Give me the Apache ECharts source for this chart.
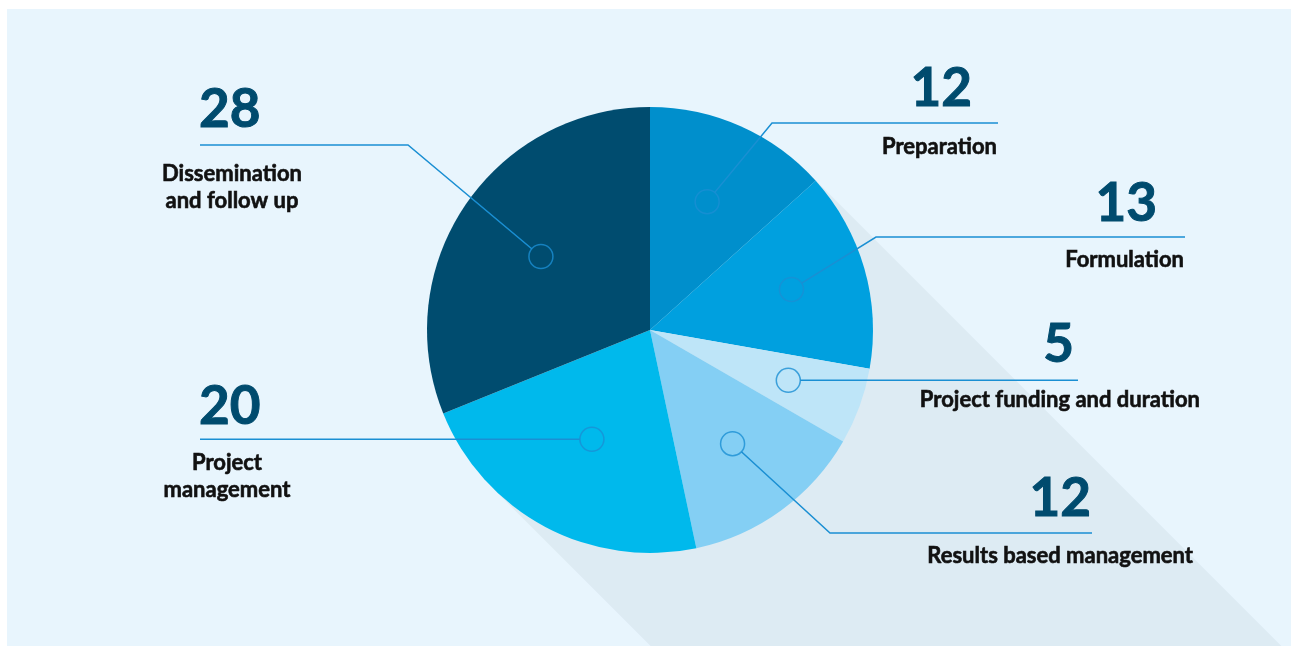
<!DOCTYPE html>
<html><head><meta charset="utf-8">
<script src="https://cdn.jsdelivr.net/npm/echarts@6/dist/echarts.min.js"></script>
<style>html,body{margin:0;padding:0;background:#fff}#c{width:1291px;height:646px}</style>
</head><body><div id="c"></div>
<script>
// ---- data ----
const categories = ['Preparation', 'Formulation', 'Project funding and duration', 'Results based management', 'Project management', 'Dissemination and follow up'];
const displayNames = ['Preparation', 'Formulation', 'Project funding and duration', 'Results based management', 'Project\nmanagement', 'Dissemination\nand follow up'];
const values = [12, 13, 5, 12, 20, 28];
const colors = ['#008FCC', '#00A0DF', '#BEE5F8', '#84CFF4', '#00B9EC', '#004C6F'];

// ---- layout (styling only) ----
const CX = 650, CY = 330, R = 223;
const layout = [
  {rr: 0.63, lineY: 123, elbowX: 772, endX: 998, numX: 972, numY: 89, numAlign: 'right', nameX: 997, nameY: 147, nameAlign: 'right'},
  {rr: 0.66, lineY: 237, elbowX: 876, endX: 1185, numX: 1157, numY: 204, numAlign: 'right', nameX: 1184, nameY: 260, nameAlign: 'right'},
  {rr: 0.66, lineY: null, elbowX: null, endX: 1078, numX: 1074, numY: 345, numAlign: 'right', nameX: 1200, nameY: 400, nameAlign: 'right'},
  {rr: 0.63, lineY: 533, elbowX: 830, endX: 1092, numX: 1091, numY: 499, numAlign: 'right', nameX: 1193, nameY: 556, nameAlign: 'right'},
  {rr: 0.555, lineY: null, elbowX: null, endX: 200, numX: 199, numY: 407, numAlign: 'left', nameX: 227, nameY: 476, nameAlign: 'center'},
  {rr: 0.59, lineY: 145, elbowX: 408, endX: 200, numX: 199, numY: 110, numAlign: 'left', nameX: 232, nameY: 187, nameAlign: 'center'}
];
const CIRCLE_R = 12;
const LINE_COLOR = '#1A8FD3';

const total = values.reduce((a, b) => a + b, 0);
const midFrac = [];
{ let acc = 0; values.forEach(v => { midFrac.push((acc + v / 2) / total); acc += v; }); }

function circlePos(i) {
  const a = midFrac[i] * Math.PI * 2;
  const r = R * layout[i].rr;
  return [CX + r * Math.sin(a), CY - r * Math.cos(a)];
}

function linePoints(i) {
  const L = layout[i];
  const c = circlePos(i);
  let elbow, end;
  if (L.lineY === null) {
    end = [L.endX, c[1]];
    elbow = [(c[0] + L.endX) / 2, c[1]];
  } else {
    elbow = [L.elbowX, L.lineY];
    end = [L.endX, L.lineY];
  }
  const dx = elbow[0] - c[0], dy = elbow[1] - c[1];
  const d = Math.sqrt(dx * dx + dy * dy);
  const start = [c[0] + dx / d * CIRCLE_R, c[1] + dy / d * CIRCLE_R];
  return [start, elbow, end];
}

const pieData = values.map((v, i) => ({name: categories[i], value: v, itemStyle: {color: colors[i]}}));
const ghostData = values.map((v, i) => ({name: categories[i], value: v, itemStyle: {color: 'rgba(0,0,0,0)'}}));
const circleData = values.map((v, i) => [layout[i].rr, midFrac[i] * total]);

const k = R / Math.SQRT2;
const A = [CX + k, CY - k], B = [CX - k, CY + k];
const T = 2000;

const chart = echarts.init(document.getElementById('c'));
chart.setOption({
  animation: false,
  backgroundColor: '#ffffff',
  graphic: [
    {type: 'rect', z: -20, silent: true, shape: {x: 7, y: 9, width: 1284, height: 637}, style: {fill: '#E8F5FD'}},
    {type: 'polygon', z: -10, silent: true, shape: {points: [A, [A[0] + T, A[1] + T], [B[0] + T, B[1] + T], B]}, style: {fill: '#DDEBF3'}}
  ],
  polar: {center: [CX, CY], radius: R},
  angleAxis: {type: 'value', min: 0, max: total, startAngle: 90, clockwise: true, show: false},
  radiusAxis: {type: 'value', min: 0, max: 1, show: false},
  series: [
    {
      type: 'pie', center: [CX, CY], radius: [0, R], startAngle: 90, clockwise: true, z: 1,
      emphasis: {disabled: true}, silent: true,
      data: pieData,
      label: {
        show: true,
        formatter: p => displayNames[p.dataIndex],
        fontFamily: 'Lato', fontWeight: 'bold', fontSize: 22, lineHeight: 27, color: '#111111',
        textBorderColor: '#111111', textBorderWidth: 0.6
      },
      labelLine: {show: false},
      labelLayout: p => {
        const L = layout[p.dataIndex];
        return {x: L.nameX, y: L.nameY, align: L.nameAlign, verticalAlign: 'middle'};
      }
    },
    {
      type: 'pie', center: [CX, CY], radius: [0, R], startAngle: 90, clockwise: true, z: 3,
      emphasis: {disabled: true}, silent: true,
      data: ghostData,
      label: {
        show: true,
        formatter: p => String(p.value),
        fontFamily: 'Lato', fontWeight: 'bold', fontSize: 53, color: '#004B6E',
        textBorderColor: '#004B6E', textBorderWidth: 1
      },
      labelLine: {show: true, lineStyle: {color: LINE_COLOR, width: 1.5}},
      labelLayout: p => {
        const L = layout[p.dataIndex];
        return {x: L.numX, y: L.numY, align: L.numAlign, verticalAlign: 'middle', labelLinePoints: linePoints(p.dataIndex)};
      }
    },
    {
      type: 'scatter', coordinateSystem: 'polar', z: 5, silent: true,
      symbol: 'circle', symbolSize: CIRCLE_R * 2,
      itemStyle: {color: 'rgba(0,0,0,0)', borderColor: LINE_COLOR, borderWidth: 1.5},
      data: circleData
    }
  ]
});
</script></body></html>
